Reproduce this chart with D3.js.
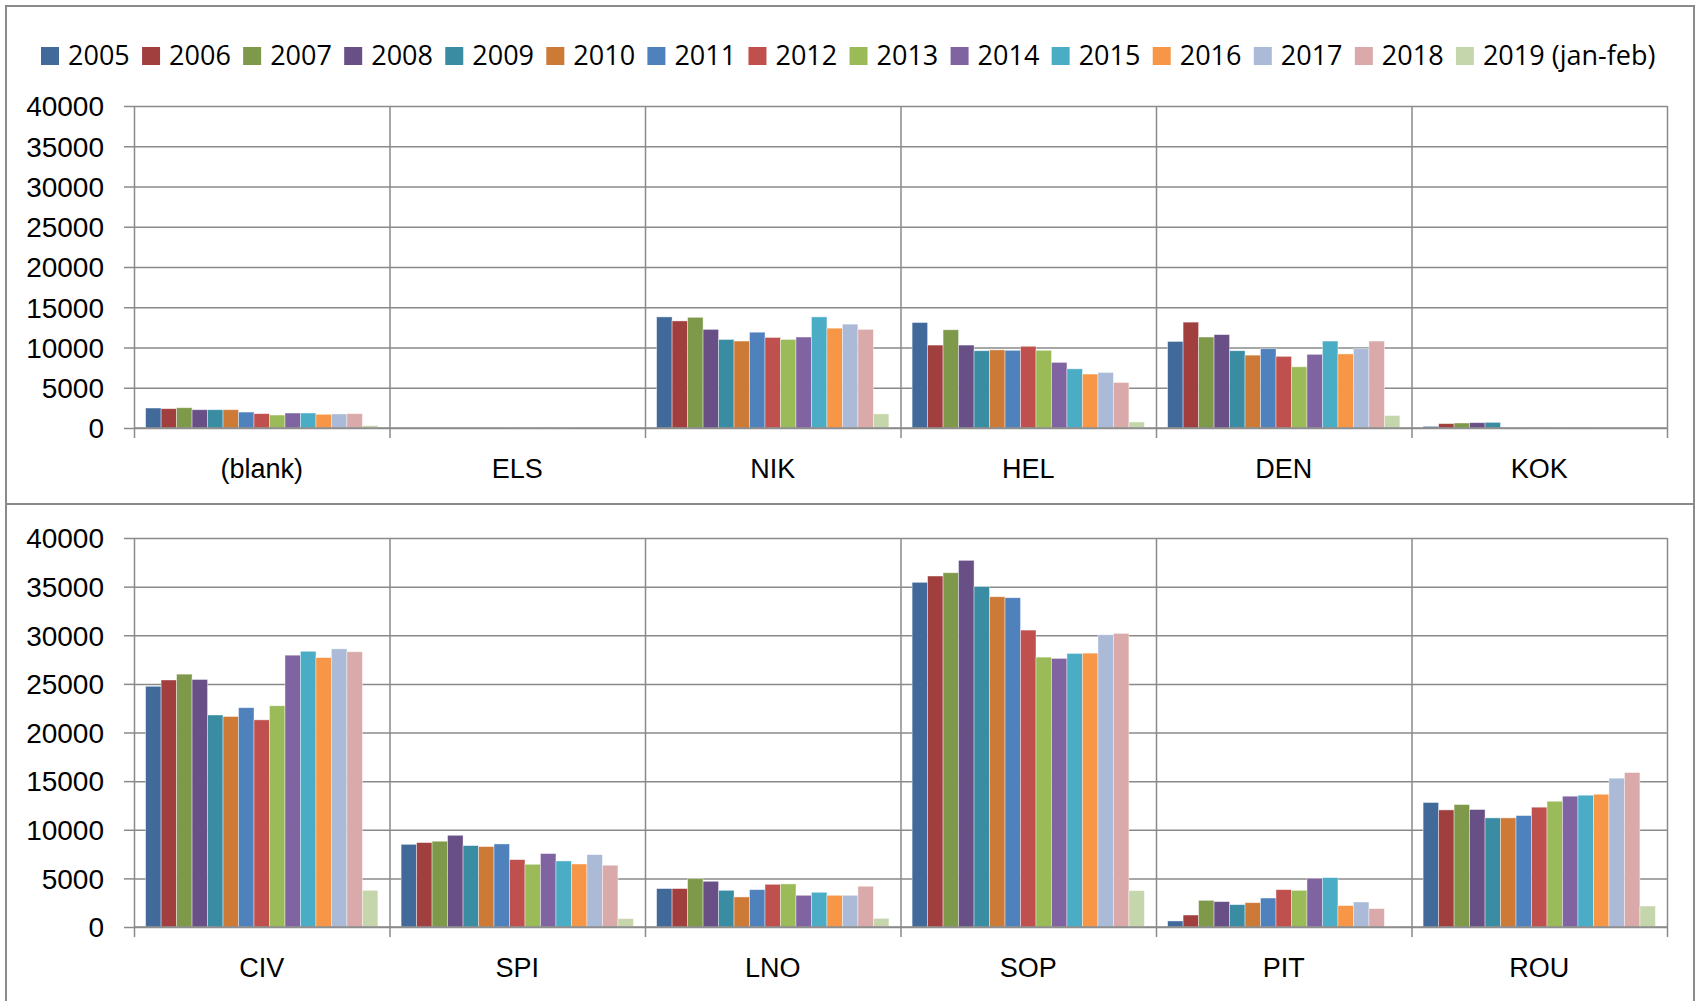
<!DOCTYPE html>
<html>
<head>
<meta charset="utf-8">
<script src="https://cdn.jsdelivr.net/npm/d3@7"></script>
<style>
  html, body { margin: 0; padding: 0; background: #fff; }
  svg { display: block; font-family: "Open Sans", sans-serif; }
  .axis path { display: none; }
  .axis text { font-size: 27px; fill: #000; }
  .yaxis text { font-size: 28px; }
  .grid line, .axis line { stroke: #8a8a8a; stroke-width: 1.5; }
  .grid path { display: none; }
  .frame { fill: none; stroke: #8a8a8a; stroke-width: 2; }
  .legend text { font-size: 27px; fill: #000; }
</style>
</head>
<body>
<div id="app"></div>
<script>
const YEARS = ['2005', '2006', '2007', '2008', '2009', '2010', '2011', '2012', '2013', '2014', '2015', '2016', '2017', '2018', '2019 (jan-feb)'];
const COLORS = ['#416A9B', '#A03F3D', '#7E994A', '#684F86', '#3A8CA3', '#CD7A36', '#4F81BD', '#C0504D',
                '#9BBB59', '#8064A2', '#4BACC6', '#F79646', '#AABAD7', '#D9AAA9', '#C6D6AC'];
const Y_TICKS = [0, 5000, 10000, 15000, 20000, 25000, 30000, 35000, 40000];

const TOP_CATS = ['(blank)', 'ELS', 'NIK', 'HEL', 'DEN', 'KOK'];
const BOTTOM_CATS = ['CIV', 'SPI', 'LNO', 'SOP', 'PIT', 'ROU'];

// values per category, one per year 2005 .. 2019 (jan-feb)
const BLANK = [2480, 2400, 2520, 2270, 2270, 2270, 1980, 1780, 1610, 1860, 1860, 1700, 1740, 1780, 290];
const ELS   = [0, 0, 0, 0, 0, 0, 0, 20, 30, 30, 20, 0, 0, 0, 0];
const NIK   = [13800, 13300, 13750, 12250, 11000, 10800, 11900, 11250, 11000, 11300, 13800, 12400, 12900, 12250, 1750];
const HEL   = [13100, 10300, 12200, 10300, 9600, 9700, 9650, 10150, 9650, 8150, 7350, 6700, 6900, 5650, 750];
const DEN   = [10750, 13150, 11300, 11600, 9600, 9050, 9850, 8900, 7600, 9150, 10800, 9200, 9850, 10800, 1550];
const KOK   = [200, 540, 620, 660, 700, 20, 20, 60, 20, 20, 30, 30, 20, 20, 0];

const CIV = [24750, 25400, 26000, 25450, 21800, 21650, 22550, 21300, 22750, 27950, 28350, 27700, 28600, 28300, 3770];
const SPI = [8500, 8680, 8820, 9430, 8370, 8270, 8540, 6930, 6450, 7550, 6790, 6480, 7440, 6350, 860];
const LNO = [3950, 3950, 4970, 4700, 3770, 3090, 3840, 4390, 4430, 3260, 3570, 3260, 3260, 4190, 890];
const SOP = [35440, 36090, 36430, 37700, 35000, 33960, 33860, 30530, 27750, 27620, 28130, 28160, 30050, 30190, 3740];
const PIT = [620, 1230, 2740, 2610, 2300, 2500, 2980, 3840, 3770, 5010, 5080, 2200, 2570, 1890, 60];
const ROU = [12800, 12040, 12590, 12080, 11220, 11220, 11460, 12320, 12930, 13450, 13550, 13650, 15300, 15880, 2160];

const W = 1696, H = 1001;
const plotLeft = 134, plotRight = 1667;

const panels = [
  { cats: TOP_CATS, values: [BLANK, ELS, NIK, HEL, DEN, KOK], top: 106, bottom: 428, frame: [6, 6, 1688, 498] },
  { cats: BOTTOM_CATS, values: [CIV, SPI, LNO, SOP, PIT, ROU], top: 538, bottom: 927, frame: [6, 504, 1688, 530] }
];

const svg = d3.select('#app').append('svg')
    .attr('width', W)
    .attr('height', H);

panels.forEach(p => {
  svg.append('rect')
      .attr('class', 'frame')
      .attr('x', p.frame[0]).attr('y', p.frame[1])
      .attr('width', p.frame[2]).attr('height', p.frame[3]);

  const plotH = p.bottom - p.top
      , plotW = plotRight - plotLeft;

  const y = d3.scaleLinear().domain([0, 40000]).range([p.bottom, p.top]);
  const x = d3.scaleBand().domain(p.cats).range([plotLeft, plotRight]);
  const xs = d3.scaleBand().domain(YEARS).range([0, x.bandwidth()]).paddingOuter(0.75).paddingInner(0);
  const xb = d3.scaleLinear().domain([0, p.cats.length]).range([plotLeft, plotRight]);

  // horizontal gridlines
  svg.append('g')
      .attr('class', 'grid')
      .attr('transform', `translate(${plotLeft}, 0)`)
      .call(d3.axisLeft(y).tickValues(Y_TICKS).tickSize(-plotW).tickFormat(''));

  // category separators, running through the plot and past the baseline
  svg.append('g')
      .attr('class', 'grid')
      .attr('transform', `translate(0, ${p.bottom + 10})`)
      .call(d3.axisBottom(xb).tickValues(d3.range(p.cats.length + 1)).tickSize(-(plotH + 10)).tickFormat(''));

  // y axis with ticks and labels
  svg.append('g')
      .attr('class', 'axis yaxis')
      .attr('transform', `translate(${plotLeft}, 0)`)
      .call(d3.axisLeft(y).tickValues(Y_TICKS).tickSize(10).tickPadding(20).tickFormat(d3.format('d')))
    .selectAll('text')
      .attr('dy', '0.35em');

  // bars
  const groups = svg.selectAll(null)
      .data(p.cats.map((c, i) => ({ cat: c, vals: p.values[i] })))
    .enter().append('g')
      .attr('transform', d => `translate(${x(d.cat)}, 0)`);

  groups.selectAll('rect')
      .data(d => d.vals.map((v, i) => ({ year: YEARS[i], value: v, i })))
    .enter().append('rect')
      .attr('x', d => xs(d.year))
      .attr('y', d => y(d.value))
      .attr('width', xs.bandwidth())
      .attr('height', d => p.bottom - y(d.value))
      .style('fill', d => COLORS[d.i])
      .style('stroke', '#fff')
      .style('stroke-width', 0.8)
      .style('stroke-opacity', 0.5);

  // zero baseline
  svg.append('line')
      .attr('x1', plotLeft).attr('x2', plotRight)
      .attr('y1', p.bottom).attr('y2', p.bottom)
      .style('stroke', '#8a8a8a').style('stroke-width', 1.5);

  // category labels
  svg.append('g')
      .attr('class', 'axis')
      .attr('transform', `translate(0, ${p.bottom})`)
      .call(d3.axisBottom(x).tickSize(0).tickPadding(31));
});

// legend
const legend = svg.append('g')
    .attr('class', 'legend')
    .attr('transform', 'translate(41, 56)');

let cursor = 0;
YEARS.forEach((yr, i) => {
  const item = legend.append('g').attr('transform', `translate(${cursor}, 0)`);
  item.append('rect')
      .attr('x', 0).attr('y', -9)
      .attr('width', 18).attr('height', 18)
      .style('fill', COLORS[i]);
  const t = item.append('text')
      .attr('x', 27)
      .attr('dy', '0.35em')
      .text(yr);
  cursor += 27 + t.node().getComputedTextLength() + 12.3;
});
</script>
</body>
</html>
